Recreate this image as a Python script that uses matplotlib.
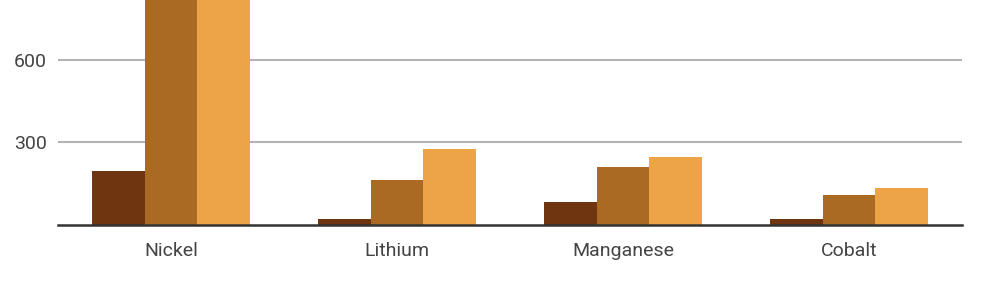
import matplotlib
matplotlib.use("Agg")
import matplotlib.pyplot as plt
import numpy as np

categories = ["Nickel", "Lithium", "Manganese", "Cobalt"]
series_a = [195, 22, 82, 22]
series_b = [1000, 164, 210, 110]
series_c = [1000, 275, 246, 136]
yticks = [300, 600]
colors = ["#6E3510", "#AA6A24", "#EDA447"]

fig = plt.figure(figsize=(9.84, 2.84), dpi=100)
ax = fig.add_axes([58/984, 1 - 225/284, 904/984, 225/284])

x = np.arange(len(categories))
w = 0.232
for i, (vals, c) in enumerate(zip([series_a, series_b, series_c], colors)):
    ax.bar(x + (i - 1) * w, vals, width=w, color=c, zorder=3, linewidth=0)

ax.set_xlim(-0.5, len(categories) - 0.5)
ax.set_ylim(0, 818)
ax.set_yticks(yticks)
ax.set_yticklabels([str(v) for v in yticks])
ax.set_xticks(x)
ax.set_xticklabels(categories)
ax.grid(axis="y", color="#b4b4b4", linewidth=1.5, zorder=0)
for s in ["top", "right", "left"]:
    ax.spines[s].set_visible(False)
ax.spines["bottom"].set_color("#333333")
ax.spines["bottom"].set_linewidth(1.8)
ax.spines["bottom"].set_zorder(4)
ax.tick_params(axis="both", length=0, labelsize=14, colors="#444444", labelfontfamily="Roboto")
ax.tick_params(axis="x", pad=12)
ax.tick_params(axis="y", pad=8)

fig.savefig("out.png", dpi=100)
